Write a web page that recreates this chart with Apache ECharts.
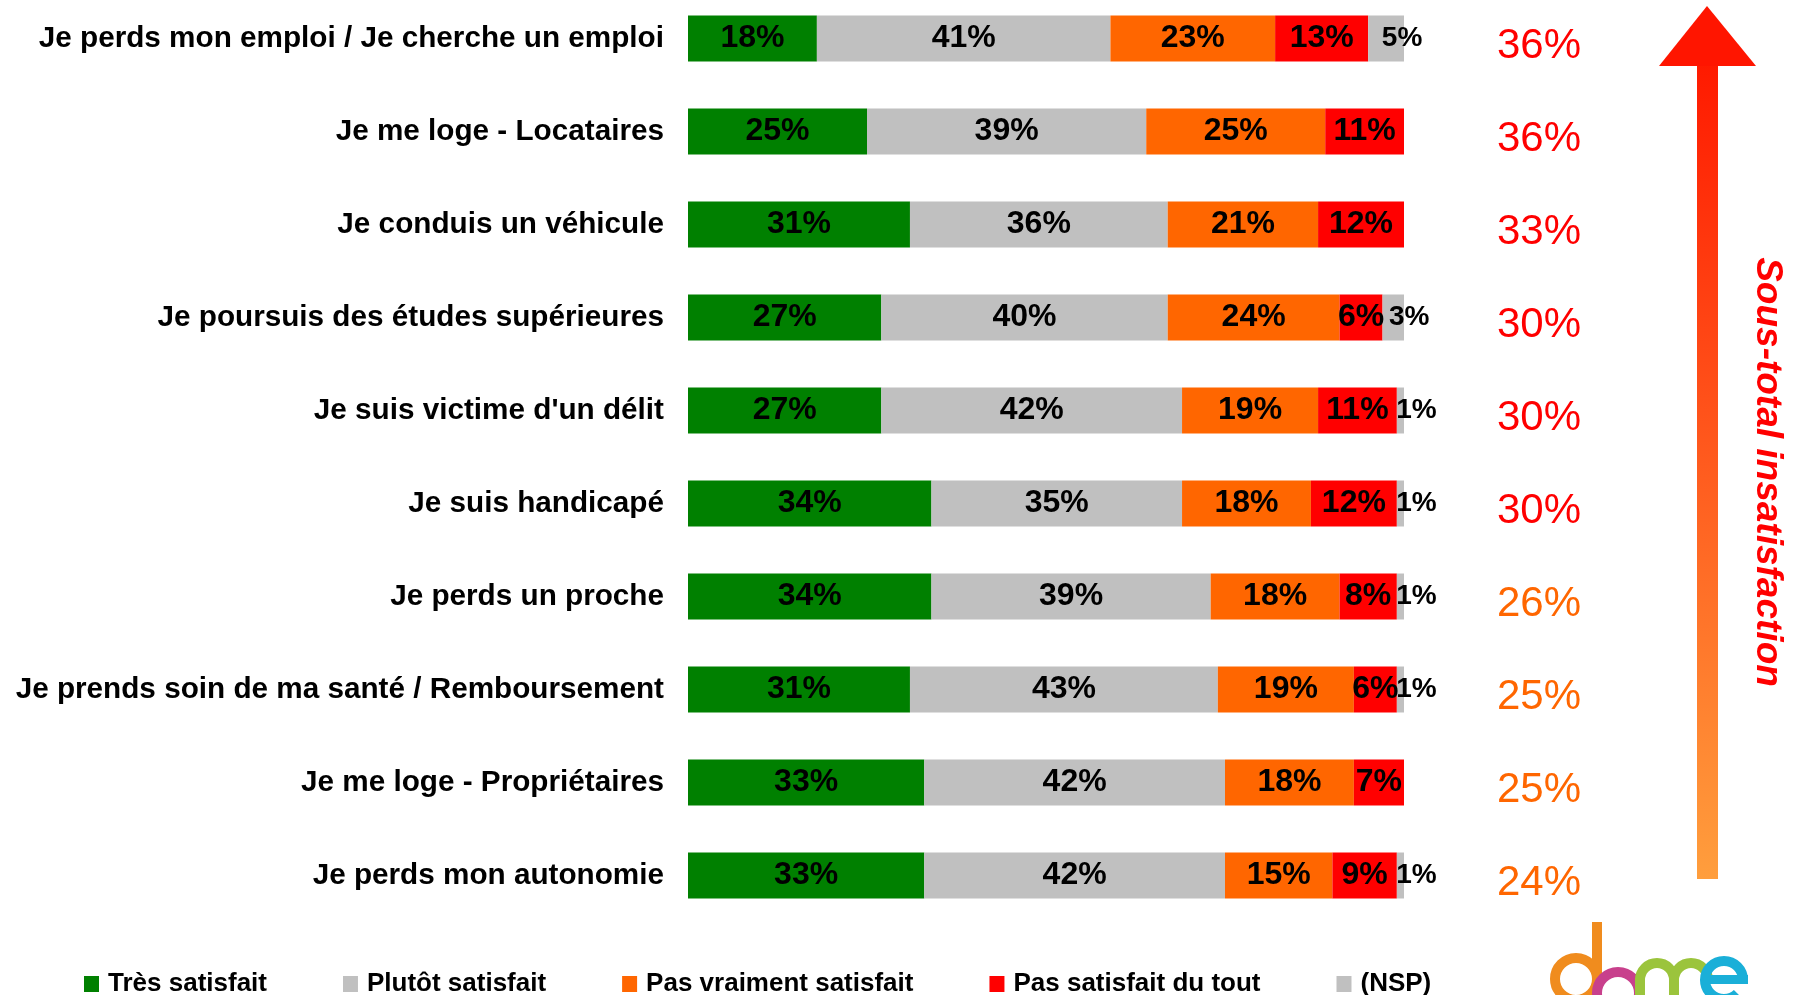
<!DOCTYPE html>
<html lang="fr">
<head>
<meta charset="UTF-8">
<title>Satisfaction par événement de vie</title>
<script src="https://cdn.jsdelivr.net/npm/echarts@6/dist/echarts.min.js"></script>
<style>
  html, body { margin: 0; padding: 0; background: #fff; }
  #chart { width: 1793px; height: 995px; }
</style>
</head>
<body>
<div id="chart"></div>
<script>
// categories, top to bottom
const categories = [
  "Je perds mon emploi / Je cherche un emploi",
  "Je me loge - Locataires",
  "Je conduis un véhicule",
  "Je poursuis des études supérieures",
  "Je suis victime d'un délit",
  "Je suis handicapé",
  "Je perds un proche",
  "Je prends soin de ma santé / Remboursement",
  "Je me loge - Propriétaires",
  "Je perds mon autonomie"
];
const tresSatisfait   = [18, 25, 31, 27, 27, 34, 34, 31, 33, 33];
const plutotSatisfait = [41, 39, 36, 40, 42, 35, 39, 43, 42, 42];
const pasVraiment     = [23, 25, 21, 24, 19, 18, 18, 19, 18, 15];
const pasDuTout       = [13, 11, 12, 6, 11, 12, 8, 6, 7, 9];
const nsp             = [5, 0, 0, 3, 1, 1, 1, 1, 0, 1];
// sous-total insatisfaction (colonne de droite)
const sousTotal       = [36, 36, 33, 30, 30, 30, 26, 25, 25, 24];

const FONT = "'Liberation Sans', Arial, sans-serif";
const RED = '#FF0000', ORANGE = '#FF6600';

let chart = echarts.init(document.getElementById('chart'));

function barSeries(name, data, color, labelExtra) {
  return {
    name: name,
    type: 'bar',
    stack: 'total',
    barWidth: 46,
    data: data,
    itemStyle: { color: color },
    label: Object.assign({
      show: true,
      position: 'inside',
      formatter: p => p.value ? p.value + '%' : '',
      color: '#000',
      fontFamily: FONT,
      fontWeight: 'bold',
      fontSize: 32
    }, labelExtra || {})
  };
}

chart.setOption({
  animation: false,
  backgroundColor: '#fff',
  grid: { left: 688, width: 716, top: -8, height: 930, outerBoundsMode: 'none', containLabel: false },
  xAxis: { type: 'value', min: 0, max: 100, show: false },
  yAxis: [
    {
      type: 'category',
      inverse: true,
      data: categories,
      axisLine: { show: false },
      axisTick: { show: false },
      axisLabel: {
        margin: 24,
        color: '#000',
        fontFamily: FONT,
        fontWeight: 'bold',
        fontSize: 29.7
      }
    },
    {
      type: 'category',
      inverse: true,
      position: 'right',
      data: sousTotal.map(v => v + '%'),
      axisLine: { show: false },
      axisTick: { show: false },
      axisLabel: {
        margin: 93,
        align: 'left',
        verticalAlign: 'top',
        lineHeight: 16,
        fontFamily: FONT,
        fontSize: 42,
        color: (v, i) => sousTotal[i] >= 30 ? RED : ORANGE
      }
    }
  ],
  legend: {
    left: 79,
    top: 966,
    icon: 'rect',
    itemWidth: 15,
    itemHeight: 16,
    itemGap: 76,
    textStyle: {
      color: '#000',
      fontFamily: FONT,
      fontWeight: 'bold',
      fontSize: 26,
      padding: [0, 0, 0, 4]
    },
    data: ['Très satisfait', 'Plutôt satisfait', 'Pas vraiment satisfait', 'Pas satisfait du tout', '(NSP)']
  },
  series: [
    barSeries('Très satisfait', tresSatisfait, '#008000'),
    barSeries('Plutôt satisfait', plutotSatisfait, '#C0C0C0'),
    barSeries('Pas vraiment satisfait', pasVraiment, ORANGE),
    barSeries('Pas satisfait du tout', pasDuTout, RED),
    barSeries('(NSP)', nsp, '#C0C0C0', { offset: [16, 0], fontSize: 28 })
  ],
  graphic: [
    // flèche "Sous-total insatisfaction"
    {
      type: 'rect',
      shape: { x: 1697, y: 64, width: 21, height: 815 },
      style: {
        fill: new echarts.graphic.LinearGradient(0, 0, 0, 1, [
          { offset: 0, color: '#FF1A00' },
          { offset: 1, color: '#FF9E3D' }
        ])
      }
    },
    {
      type: 'polygon',
      shape: { points: [[1707, 6], [1659, 66], [1756, 66]] },
      style: { fill: '#FF1500' }
    },
    {
      type: 'text',
      x: 1767,
      y: 472,
      rotation: -Math.PI / 2,
      style: {
        text: 'Sous-total insatisfaction',
        fill: RED,
        font: "italic bold 37px 'Liberation Sans', sans-serif",
        align: 'center',
        verticalAlign: 'middle'
      }
    },
    // logo "dome"
    { type: 'circle', shape: { cx: 1576, cy: 979, r: 21 }, style: { fill: null, stroke: '#F08C1E', lineWidth: 10 } },
    { type: 'rect', shape: { x: 1592, y: 922, width: 10, height: 80 }, style: { fill: '#F08C1E' } },
    { type: 'circle', shape: { cx: 1618, cy: 993, r: 21 }, style: { fill: null, stroke: '#C8408C', lineWidth: 10 } },
    { type: 'arc', shape: { cx: 1657, cy: 980, r: 17, startAngle: Math.PI, endAngle: 2 * Math.PI, clockwise: true }, style: { fill: null, stroke: '#9BC43C', lineWidth: 10 } },
    { type: 'arc', shape: { cx: 1691, cy: 980, r: 17, startAngle: Math.PI, endAngle: 2 * Math.PI, clockwise: true }, style: { fill: null, stroke: '#9BC43C', lineWidth: 10 } },
    { type: 'rect', shape: { x: 1635, y: 978, width: 10, height: 20 }, style: { fill: '#9BC43C' } },
    { type: 'rect', shape: { x: 1669, y: 978, width: 10, height: 20 }, style: { fill: '#9BC43C' } },
    { type: 'arc', shape: { cx: 1724, cy: 980, r: 19, startAngle: 0.25 * Math.PI, endAngle: 2 * Math.PI, clockwise: true }, style: { fill: null, stroke: '#1AAFD8', lineWidth: 10 } },
    { type: 'rect', shape: { x: 1702, y: 975, width: 46, height: 9 }, style: { fill: '#1AAFD8' } }
  ]
});
</script>
</body>
</html>
